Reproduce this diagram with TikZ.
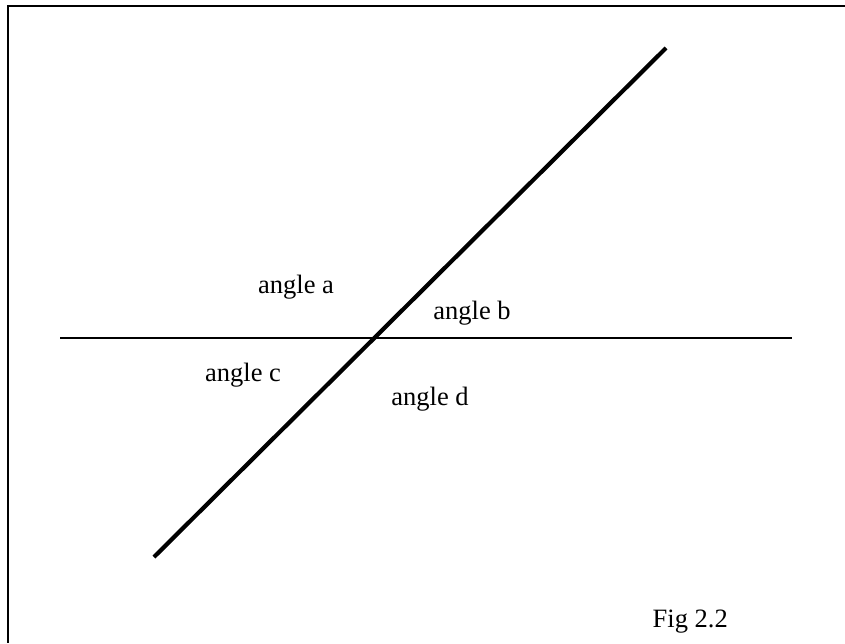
\documentclass[tikz,border=0pt]{standalone}
\usepackage{fontspec}
\setmainfont{Liberation Serif}
\begin{document}
\begin{tikzpicture}[x=1pt,y=-1pt,
  lbl/.style={font=\fontsize{26.5}{30}\selectfont, inner sep=0pt, anchor=base},
  thin line/.style={line width=2pt},
  thick line/.style={line width=4.2pt}]
\useasboundingbox (0,0) rectangle (845,643);
% frame (top and left edges only)
\coordinate (tl) at (8.3,6);
\coordinate (tr) at (845,6);
\coordinate (bl) at (8.3,643);
\draw[thin line] (tr) -- (tl) -- (bl);
% horizontal line
\coordinate (h1) at (60,337.5);
\coordinate (h2) at (792,337.5);
\draw[thin line] (h1) -- (h2);
% diagonal line
\coordinate (d1) at (154,557);
\coordinate (d2) at (666,48);
\draw[thick line] (d1) -- (d2);
% labels
\node[lbl] (a) at (296,293) {angle a};
\node[lbl] (b) at (472,319) {angle b};
\node[lbl] (c) at (243,381) {angle c};
\node[lbl] (d) at (430,405) {angle d};
\node[lbl, anchor=base east] (fig) at (728,627) {Fig 2.2};
\end{tikzpicture}
\end{document}
